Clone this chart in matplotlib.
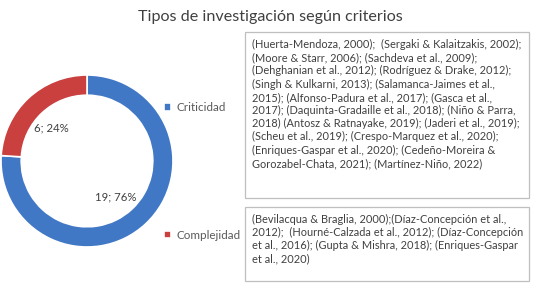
import matplotlib
matplotlib.use("Agg")
import matplotlib.pyplot as plt
from matplotlib.patches import Rectangle
import numpy as np

title = "Tipos de investigación según criterios"
categories = ["Criticidad", "Complejidad"]
counts = [19, 6]
colors = ["#4178C5", "#C9403F"]

refs_criticidad = (
    "(Huerta-Mendoza, 2000);  (Sergaki & Kalaitzakis, 2002);\n"
    "(Moore & Starr, 2006); (Sachdeva et al., 2009);\n"
    "(Dehghanian et al., 2012); (Rodríguez & Drake, 2012);\n"
    "(Singh & Kulkarni, 2013); (Salamanca-Jaimes et al.,\n"
    "2015); (Alfonso-Padura et al., 2017); (Gasca et al.,\n"
    "2017); (Daquinta-Gradaille et al., 2018); (Niño & Parra,\n"
    "2018) (Antosz & Ratnayake, 2019); (Jaderi et al., 2019);\n"
    "(Scheu et al., 2019); (Crespo-Marquez et al., 2020);\n"
    "(Enriques-Gaspar et al., 2020); (Cedeño-Moreira &\n"
    "Gorozabel-Chata, 2021); (Martínez-Niño, 2022)"
)
refs_complejidad = (
    "(Bevilacqua & Braglia, 2000);(Díaz-Concepción et al.,\n"
    "2012);  (Hourné-Calzada et al., 2012); (Díaz-Concepción\n"
    "et al., 2016); (Gupta & Mishra, 2018); (Enriques-Gaspar\n"
    "et al., 2020)"
)

FONT = "Lato"
W, H = 533, 291
fig = plt.figure(figsize=(W / 100, H / 100), dpi=100)
fig.patch.set_facecolor("white")

def fx(px):
    return px / W

def fy(py):
    return 1 - py / H

# Title
fig.text(fx(270), fy(17), title, ha="center", va="center",
         fontsize=11.6, color="#404040", family=FONT)

# Donut
cx, cy, r = 87, 161, 86
ax = fig.add_axes([fx(cx - r), fy(cy + r), 2 * r / W, 2 * r / H])
wedges, _ = ax.pie(counts, colors=colors, startangle=90, counterclock=False,
                   radius=1.0, wedgeprops=dict(width=0.235, edgecolor="white", linewidth=1.2))
ax.set_xlim(-1, 1)
ax.set_ylim(-1, 1)
ax.set_aspect("auto")
ax.axis("off")

total = sum(counts)
for w, c in zip(wedges, counts):
    ang = np.deg2rad((w.theta1 + w.theta2) / 2)
    rr = 0.55
    ax.text(rr * np.cos(ang) - 0.04, rr * np.sin(ang) - 0.02, f"{c}; {round(100 * c / total)}%",
            ha="center", va="center", fontsize=8.2, color="#404040", family=FONT)

# Legend
leg = fig.legend(wedges, categories, loc="upper left",
                 bbox_to_anchor=(fx(164), fy(102)), frameon=False,
                 handlelength=0.6, handleheight=0.6, handletextpad=0.5,
                 labelspacing=10.0, borderpad=0, borderaxespad=0,
                 prop=dict(family=FONT, size=8.4))
for t in leg.get_texts():
    t.set_color("#595959")

# Reference boxes
def box(x0, y0, x1, y1, text):
    fig.add_artist(Rectangle((fx(x0), fy(y1)), fx(x1) - fx(x0), fy(y0) - fy(y1),
                             transform=fig.transFigure, facecolor="white",
                             edgecolor="#BFBFBF", linewidth=0.9))
    fig.text(fx(x0 + 7), fy(y0 + 7), text, ha="left", va="top",
             fontsize=7.9, color="#404040", family=FONT, linespacing=1.24)

box(245, 32, 529, 198, refs_criticidad)
box(245, 207, 529, 281, refs_complejidad)

fig.savefig("out.png", dpi=100, facecolor="white")
